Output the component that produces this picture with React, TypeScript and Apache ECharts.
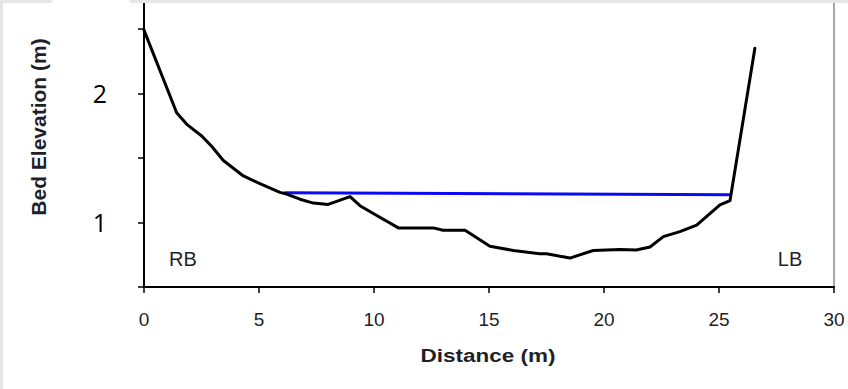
import React, { useEffect, useRef } from "react";
import * as echarts from "echarts";

const distance = [0, 1.42, 1.86, 2.51, 2.94, 3.45, 4.32, 5.04, 5.91, 6.2, 6.78, 7.36, 8.01, 8.96, 9.39, 10.1, 11.06, 12.58, 13.0, 13.96, 15.04, 16.06, 17.2, 17.5, 18.52, 19.53, 20.7, 21.4, 22.0, 22.58, 23.3, 24.03, 25.04, 25.48, 26.56];
const elevation = [2.49, 1.85, 1.76, 1.67, 1.59, 1.48, 1.36, 1.3, 1.233, 1.22, 1.18, 1.15, 1.14, 1.2, 1.13, 1.056, 0.958, 0.958, 0.94, 0.94, 0.815, 0.783, 0.758, 0.758, 0.724, 0.783, 0.79, 0.787, 0.81, 0.89, 0.929, 0.98, 1.136, 1.17, 2.35];
const waterX = [6.1, 25.55];
const waterY = [1.23, 1.215];
const yTicks = [0.5, 1, 1.5, 2, 2.5];
const yLabels = [1, 2];

export default function App() {
  const ref = useRef<HTMLDivElement>(null);
  useEffect(() => {
    const chart = echarts.init(ref.current!, null, { renderer: "svg" });
    const bed = distance.map((d, i) => [d, elevation[i]]);
    const water = waterX.map((d, i) => [d, waterY[i]]);
    chart.setOption({
      animation: false,
      backgroundColor: "#ffffff",
      grid: { left: 144, right: 14, top: 3, bottom: 102, containLabel: false },
      xAxis: {
        type: "value",
        min: 0,
        max: 30,
        interval: 5,
        axisLine: { lineStyle: { color: "#000", width: 2 } },
        axisTick: { show: true, length: 6, lineStyle: { color: "#000", width: 1.5 } },
        axisLabel: { margin: 23, fontFamily: "Liberation Sans", fontSize: 19, color: "#1f1f2a" },
        splitLine: { show: false },
      },
      yAxis: [
        {
          type: "value",
          min: 0.5,
          max: 2.7,
          interval: 0.5,
          axisLine: { show: true, onZero: false, lineStyle: { color: "#000", width: 2 } },
          axisTick: { show: true, length: 6, customValues: yTicks, lineStyle: { color: "#000", width: 1.5 } },
          axisLabel: {
            margin: 37,
            fontFamily: "Open Sans",
            fontSize: 25,
            color: "#000",
            customValues: yLabels,
          },
          splitLine: { show: false },
        },
        {
          type: "value",
          position: "right",
          min: 0.5,
          max: 2.7,
          interval: 0.5,
          axisLine: { show: true, onZero: false, lineStyle: { color: "#a8a8a8", width: 2 } },
          axisTick: { show: false },
          axisLabel: { show: false },
          splitLine: { show: false },
        },
      ],
      series: [
        {
          type: "line",
          data: bed,
          yAxisIndex: 0,
          symbol: "none",
          lineStyle: { color: "#000", width: 3, cap: "round", join: "round" },
          z: 3,
        },
        {
          type: "line",
          data: water,
          yAxisIndex: 0,
          symbol: "none",
          lineStyle: { color: "#0a0af5", width: 3 },
          z: 2,
        },
      ],
      graphic: [
        { type: "rect", z: 100, shape: { x: 0, y: 0, width: 848, height: 3 }, style: { fill: "#e6e6e6" } },
        { type: "rect", z: 101, shape: { x: 52, y: 0, width: 78, height: 4, r: 3 }, style: { fill: "#ffffff" } },
        { type: "rect", z: 100, shape: { x: 0, y: 0, width: 3, height: 389 }, style: { fill: "#e6e6e6" } },
        {
          type: "text",
          z: 50,
          x: 38,
          y: 127,
          rotation: Math.PI / 2,
          style: {
            text: "Bed Elevation (m)",
            fontFamily: "Liberation Sans",
            fontWeight: "bold",
            fontSize: 21,
            fill: "#1f1f2a",
            align: "center",
            verticalAlign: "middle",
          },
        },
        {
          type: "text",
          z: 50,
          x: 488,
          y: 356,
          scaleX: 1.25,
          style: {
            text: "Distance (m)",
            fontFamily: "Liberation Sans",
            fontWeight: "bold",
            fontSize: 18,
            fill: "#1f1f2a",
            align: "center",
            verticalAlign: "middle",
          },
        },
        {
          type: "text",
          z: 50,
          x: 183,
          y: 259,
          style: { text: "RB", fontFamily: "Liberation Sans", fontSize: 20, fill: "#1f1f2a", align: "center", verticalAlign: "middle" },
        },
        {
          type: "text",
          z: 50,
          x: 790,
          y: 259,
          style: { text: "LB", fontFamily: "Liberation Sans", fontSize: 20, fill: "#1f1f2a", align: "center", verticalAlign: "middle" },
        },
      ],
    });
    return () => chart.dispose();
  }, []);
  return (
    <div style={{ position: "fixed", left: 0, top: 0, width: 848, height: 389, background: "#fff" }}>
      <div ref={ref} style={{ width: 848, height: 389 }} />
    </div>
  );
}
